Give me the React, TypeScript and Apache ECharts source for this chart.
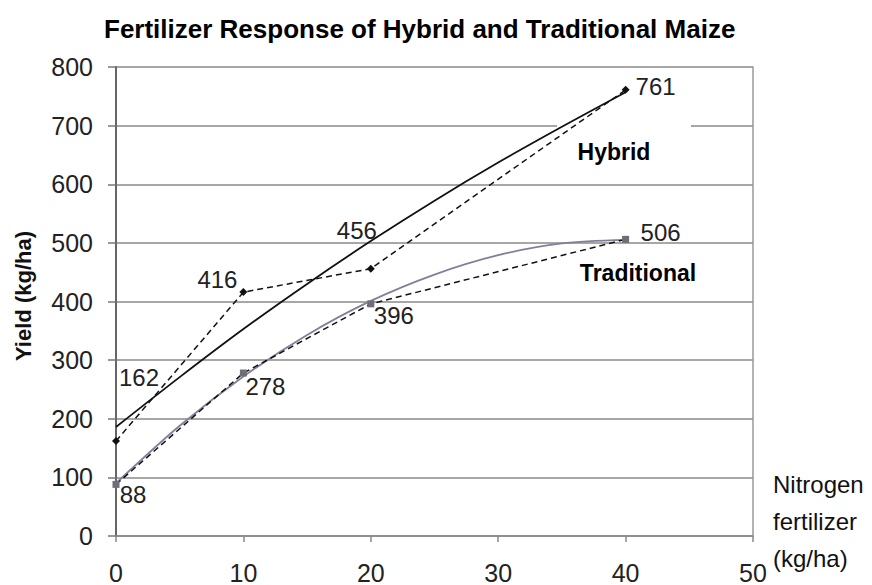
import React, { useEffect, useRef } from "react";
import * as echarts from "echarts";

const nitrogen = [0, 10, 20, 40];
const hybridYield = [162, 416, 456, 761];
const traditionalYield = [88, 278, 396, 506];

const trendNitrogen = [0, 5, 10, 15, 20, 25, 30, 35, 40];
const hybridTrend = [186, 271, 353, 430, 503, 572, 637, 698, 757];
const traditionalTrend = [90, 188, 272, 343, 401, 446, 479, 499, 505];

const titleText = "Fertilizer Response of Hybrid and Traditional Maize";
const yAxisTitle = "Yield (kg/ha)";
const xAxisTitle = "Nitrogen\nfertilizer\n(kg/ha)";
const hybridName = "Hybrid";
const traditionalName = "Traditional";

// label offsets (style only)
const hybridLabelOffsets = [[23, -64], [-26, -13], [-14, -38], [30, -3]];
const traditionalLabelOffsets = [[17, 10], [22, 13], [23, 12], [35, -7]];

const FONT = "'Liberation Sans', Arial, sans-serif";

export default function App() {
  const ref = useRef<HTMLDivElement>(null);
  useEffect(() => {
    if (!ref.current) return;
    const chart = echarts.init(ref.current, undefined, { renderer: "svg" });
    const labelStyle = {
      show: true,
      position: "inside",
      fontSize: 24,
      color: "#222",
      fontFamily: FONT,
      formatter: (p: any) => String(p.value[1]),
    };
    const pts = (ys: number[], offs: number[][]) =>
      nitrogen.map((x, i) => ({
        value: [x, ys[i]],
        label: { ...labelStyle, offset: offs[i] },
      }));
    chart.setOption({
      animation: false,
      backgroundColor: "#fff",
      title: {
        text: titleText,
        left: 99,
        top: 11,
        textStyle: {
          fontFamily: FONT,
          fontWeight: "bold",
          fontSize: 26,
          color: "#000",
        },
      },
      grid: { left: 116, right: 119, top: 67, bottom: 45, containLabel: false },
      xAxis: {
        type: "value",
        min: 0,
        max: 50,
        interval: 10,
        axisLine: { show: true, lineStyle: { color: "#888", width: 1.5 } },
        axisTick: { show: true, length: 6, lineStyle: { color: "#888", width: 1.5 } },
        axisLabel: { fontSize: 25, color: "#222", fontFamily: FONT, margin: 24 },
        splitLine: { show: false },
      },
      yAxis: [
        {
          type: "value",
          min: 0,
          max: 800,
          interval: 100,
          axisLine: { show: true, lineStyle: { color: "#666", width: 2 } },
          axisTick: { show: true, length: 8, lineStyle: { color: "#777", width: 1.5 } },
          axisLabel: { fontSize: 25, color: "#222", fontFamily: FONT, margin: 23 },
          splitLine: { show: true, lineStyle: { color: "#8a8a8a", width: 1.5 } },
        },
        {
          type: "value",
          min: 0,
          max: 800,
          interval: 100,
          position: "right",
          axisLine: { show: true, lineStyle: { color: "#999", width: 1.5 } },
          axisTick: { show: false },
          axisLabel: { show: false },
          splitLine: { show: false },
        },
      ],
      graphic: [
        {
          type: "rect",
          z: 1,
          shape: { x: 557, y: 122, width: 134, height: 54 },
          style: { fill: "#fff" },
        },
        {
          type: "text",
          z: 10,
          x: 23,
          y: 296,
          rotation: Math.PI / 2,
          style: {
            text: yAxisTitle,
            font: `bold 22px ${FONT}`,
            fill: "#111",
            textAlign: "center",
            textVerticalAlign: "middle",
          },
        },
        {
          type: "text",
          z: 10,
          x: 614,
          y: 152,
          style: {
            text: hybridName,
            font: `bold 23px ${FONT}`,
            fill: "#000",
            textAlign: "center",
            textVerticalAlign: "middle",
          },
        },
        {
          type: "text",
          z: 10,
          x: 638,
          y: 273,
          style: {
            text: traditionalName,
            font: `bold 23px ${FONT}`,
            fill: "#000",
            textAlign: "center",
            textVerticalAlign: "middle",
          },
        },
        {
          type: "text",
          z: 10,
          x: 773,
          y: 466,
          style: {
            text: xAxisTitle,
            font: `24px ${FONT}`,
            lineHeight: 37,
            fill: "#111",
            textAlign: "left",
            textVerticalAlign: "top",
          },
        },
      ],
      series: [
        {
          name: "Hybrid trend",
          type: "line",
          smooth: 0.3,
          symbol: "none",
          z: 3,
          data: trendNitrogen.map((x, i) => [x, hybridTrend[i]]),
          lineStyle: { color: "#111", width: 1.8 },
        },
        {
          name: "Traditional trend",
          type: "line",
          smooth: 0.3,
          symbol: "none",
          z: 3,
          data: trendNitrogen.map((x, i) => [x, traditionalTrend[i]]),
          lineStyle: { color: "#80809a", width: 1.8 },
        },
        {
          name: hybridName,
          type: "line",
          z: 4,
          symbol: "diamond",
          symbolSize: 8,
          itemStyle: { color: "#111" },
          lineStyle: { color: "#111", width: 1.5, type: [6, 4] },
          data: pts(hybridYield, hybridLabelOffsets),
        },
        {
          name: traditionalName,
          type: "line",
          z: 4,
          symbol: "rect",
          symbolSize: 7,
          itemStyle: { color: "#6e6e78" },
          lineStyle: { color: "#111", width: 1.5, type: [6, 4] },
          data: pts(traditionalYield, traditionalLabelOffsets),
        },
      ],
    });
    return () => chart.dispose();
  }, []);
  return (
    <div
      ref={ref}
      style={{ position: "fixed", left: 0, top: 0, width: 872, height: 585, background: "#fff" }}
    />
  );
}
